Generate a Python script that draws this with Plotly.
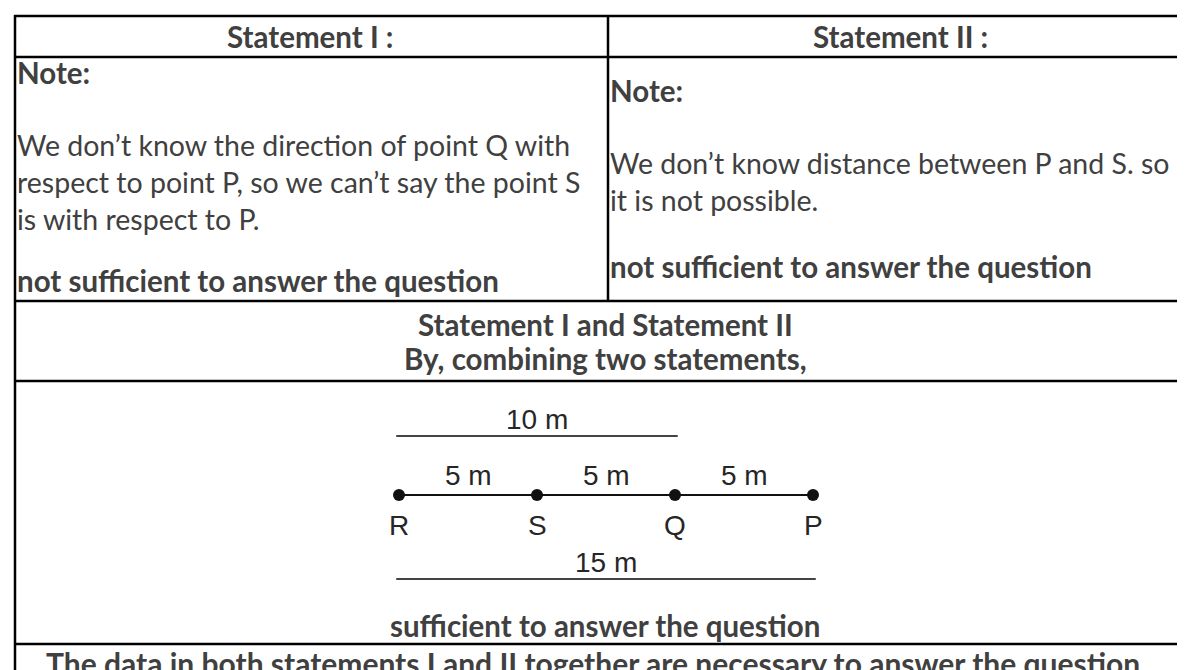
import plotly.graph_objects as go

W, H = 1185, 670

# table text
header = ["Statement I :", "Statement II :"]
note_label = "Note:"
note_left = [
    "We don’t know the direction of point Q with",
    "respect to point P, so we can’t say the point S",
    "is with respect to P.",
]
note_right = [
    "We don’t know distance between P and S. so",
    "it is not possible.",
]
verdict_single = "not sufficient to answer the question"
combined_title = ["Statement I and Statement II", "By, combining two statements,"]
verdict_combined = "sufficient to answer the question"
conclusion = "The data in both statements I and II together are necessary to answer the question."

# diagram data (metres along the line)
points = ["R", "S", "Q", "P"]
point_pos_m = [0, 5, 10, 15]
segment_labels = ["5 m", "5 m", "5 m"]
spans_m = [10, 15]
span_labels = ["10 m", "15 m"]

TXT = "#404040"
FONT = "Lato"
DIA_FONT = "Liberation Sans"
DIA_COL = "#262626"
FS = 28.5
FS_B = 29.5

# metres -> pixels on the diagram axis: R at px 391, P at px 805
px_per_m = (805 - 391) / 15
x2_range = [-391 / px_per_m, (W - 391) / px_per_m]

fig = go.Figure()

# main line with the four points
fig.add_trace(go.Scatter(
    x=point_pos_m, y=[487] * len(point_pos_m), xaxis="x2", yaxis="y",
    mode="lines+markers", line=dict(color="#111111", width=2),
    marker=dict(size=12, color="#111111"), hoverinfo="skip", showlegend=False,
))

# 10 m above, 15 m below
span_y = [428, 571]
span_text_y = [411, 554]
for s, lab, ly, ty in zip(spans_m, span_labels, span_y, span_text_y):
    fig.add_trace(go.Scatter(
        x=[-0.1, s + 0.1], y=[ly, ly], xaxis="x2", yaxis="y", mode="lines",
        line=dict(color="#444444", width=2), hoverinfo="skip", showlegend=False,
    ))
    fig.add_annotation(x=s / 2, y=ty, xref="x2", yref="y", text=lab, showarrow=False,
                       font=dict(family=DIA_FONT, size=28, color=DIA_COL))

for i, lab in enumerate(segment_labels):
    mid = (point_pos_m[i] + point_pos_m[i + 1]) / 2
    fig.add_annotation(x=mid, y=467, xref="x2", yref="y", text=lab, showarrow=False,
                       font=dict(family=DIA_FONT, size=28, color=DIA_COL))

for p, name in zip(point_pos_m, points):
    fig.add_annotation(x=p, y=517, xref="x2", yref="y", text=name, showarrow=False,
                       font=dict(family=DIA_FONT, size=28, color=DIA_COL))


def txt(x, y, s, bold=False, anchor="center", size=None):
    if bold:
        s = "<b>" + s + "</b>"
    fig.add_annotation(x=x, y=y, xref="x", yref="y", text=s, showarrow=False,
                       xanchor=anchor, yanchor="middle", borderpad=0,
                       font=dict(family=FONT, size=size or (FS_B if bold else FS), color=TXT))


# header
txt(302, 28, header[0], bold=True)
txt(892, 28, header[1], bold=True)

# left cell
txt(8, 64, note_label, bold=True, anchor="left")
for i, line in enumerate(note_left):
    txt(8, 137 + i * 37, line, anchor="left")
txt(8, 272, verdict_single, bold=True, anchor="left")

# right cell
txt(601, 82, note_label, bold=True, anchor="left")
for i, line in enumerate(note_right):
    txt(601, 155 + i * 37, line, anchor="left")
txt(601, 258, verdict_single, bold=True, anchor="left")

# combined row
txt(597, 316, combined_title[0], bold=True)
txt(597, 350, combined_title[1], bold=True)
txt(597, 617, verdict_combined, bold=True)
txt(588, 655, conclusion, bold=True, size=30)

# table borders
lw = 2.5
for y in [8, 49, 293, 373, 636]:
    fig.add_shape(type="line", xref="x", yref="y", x0=6, x1=W + 5, y0=y, y1=y,
                  line=dict(color="black", width=lw))
fig.add_shape(type="line", xref="x", yref="y", x0=7, x1=7, y0=7, y1=H + 5,
              line=dict(color="black", width=lw))
fig.add_shape(type="line", xref="x", yref="y", x0=600, x1=600, y0=7, y1=293,
              line=dict(color="black", width=lw))

fig.update_layout(
    width=W, height=H,
    margin=dict(l=0, r=0, t=0, b=0),
    paper_bgcolor="white", plot_bgcolor="white",
    xaxis=dict(range=[0, W], visible=False, fixedrange=True),
    xaxis2=dict(range=x2_range, visible=False, overlaying="x", fixedrange=True),
    yaxis=dict(range=[H, 0], visible=False, fixedrange=True),
    showlegend=False,
)

fig.write_html("out.html", config={"displayModeBar": False})
